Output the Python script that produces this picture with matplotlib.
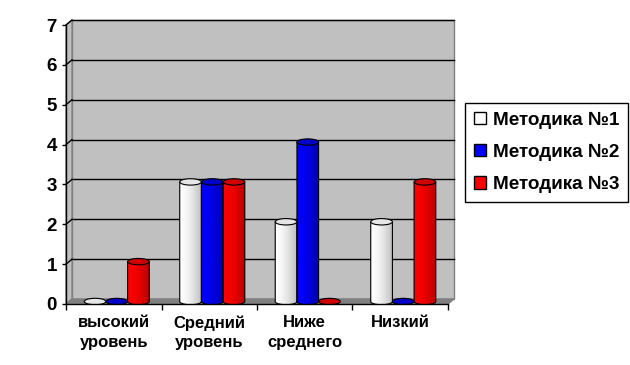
import matplotlib
matplotlib.use("Agg")
import matplotlib.pyplot as plt
import numpy as np
from matplotlib.patches import Polygon, Ellipse, Patch
from matplotlib.path import Path
from matplotlib.patches import PathPatch

# data
categories = ["высокий\nуровень", "Средний\nуровень", "Ниже\nсреднего", "Низкий"]
series_names = ["Методика №1", "Методика №2", "Методика №3"]
method1 = [0, 3, 2, 2]
method2 = [0, 3, 4, 0]
method3 = [1, 3, 0, 3]
y_ticks = [0, 1, 2, 3, 4, 5, 6, 7]

plt.rcParams["font.family"] = ["Liberation Sans", "DejaVu Sans"]
plt.rcParams["font.weight"] = "bold"

# left colour, right colour, top colour per series
shades = [("#ffffff", "#bdbdbd", "#e6e6e6"),
          ("#0000ff", "#0000a8", "#0000c8"),
          ("#ff0000", "#b80000", "#d00000")]

fig = plt.figure(figsize=(6.3, 3.65), dpi=100)
ax = fig.add_axes([66 / 630, 61 / 365, 382 / 630, 279 / 365])
n = len(categories)
ymax = y_ticks[-1]
dx, dy = 0.063, 0.126      # depth offset of the back wall, data units
bw = 0.227                 # bar width
eh = 0.16                  # ellipse height

# back wall, side wall, floor
ax.add_patch(Polygon([(dx, dy), (n + dx, dy), (n + dx, ymax + dy), (dx, ymax + dy)],
                     closed=True, facecolor="#c0c0c0", edgecolor="#808080", lw=1,
                     zorder=0, clip_on=False))
ax.add_patch(Polygon([(0, 0), (dx, dy), (dx, ymax + dy), (0, ymax)], closed=True,
                     facecolor="#c0c0c0", edgecolor="#808080", lw=1, zorder=0, clip_on=False))
ax.add_patch(Polygon([(0, 0), (n, 0), (n + dx, dy), (dx, dy)], closed=True,
                     facecolor="#808080", edgecolor="#808080", lw=1, zorder=1, clip_on=False))
for v in y_ticks[1:]:
    ax.plot([dx, n + dx], [v + dy, v + dy], color="black", lw=1, zorder=1, clip_on=False)
    ax.plot([0, dx], [v, v + dy], color="black", lw=1, zorder=1, clip_on=False)


def cylinder(xc, h, left, right, top, z):
    x0, x1 = xc - bw / 2, xc + bw / 2
    yb = dy / 2
    if h > 0:
        t = np.linspace(0, 1, 64)
        cl = np.array(matplotlib.colors.to_rgb(left))
        cr = np.array(matplotlib.colors.to_rgb(right))
        k = (t ** 1.6)[:, None]
        grad = (cl * (1 - k) + cr * k)[None, :, :]
        # clip: body plus lower half ellipse
        th = np.linspace(np.pi, 2 * np.pi, 30)
        verts = [(x0, yb + h)] + [(xc + bw / 2 * np.cos(a), yb + eh / 2 * np.sin(a)) for a in th] \
            + [(x1, yb + h), (x0, yb + h)]
        clip = PathPatch(Path(verts), facecolor="none", edgecolor="black", lw=0.8, zorder=z + 0.2)
        ax.add_patch(clip)
        im = ax.imshow(grad, extent=[x0, x1, yb - eh / 2, yb + h], aspect="auto",
                       zorder=z, interpolation="bilinear")
        im.set_clip_path(clip)
    ax.add_patch(Ellipse((xc, yb + h), bw, eh, facecolor=top, edgecolor="black",
                         lw=0.8, zorder=z + 0.3))


for s, vals in enumerate([method1, method2, method3]):
    for i, v in enumerate(vals):
        xc = i + 0.5 + dx / 2 + (s - 1) * bw
        cylinder(xc, v, *shades[s], z=3 + i * 0.1 + s * 0.01)

ax.set_xlim(0, n)
ax.set_ylim(0, ymax)
for sp in ["top", "right"]:
    ax.spines[sp].set_visible(False)
for sp in ["left", "bottom"]:
    ax.spines[sp].set_linewidth(1)
    ax.spines[sp].set_zorder(5)
ax.set_yticks(y_ticks)
ax.set_yticklabels([str(v) for v in y_ticks], fontsize=13.5, fontweight="bold")
ax.tick_params(axis="y", direction="out", length=3, width=1, pad=3.5)
ax.set_xticks(range(n + 1))
ax.set_xticklabels([])
ax.tick_params(axis="x", which="major", direction="out", length=4, width=1)
ax.set_xticks([i + 0.5 for i in range(n)], minor=True)
ax.set_xticklabels(categories, minor=True, fontsize=12, fontweight="bold", linespacing=1.4)
ax.tick_params(axis="x", which="minor", length=0, pad=8)

handles = [Patch(facecolor=shades[s][0], edgecolor="black", lw=1) for s in range(3)]
leg = fig.legend(handles, series_names, loc="upper left",
                 bbox_to_anchor=(465 / 630, 1 - 103 / 365), borderaxespad=0,
                 fancybox=False, shadow=False, edgecolor="black", framealpha=1,
                 prop={"size": 13.6, "weight": "bold"}, handlelength=0.65,
                 handleheight=0.65, handletextpad=0.4, labelspacing=0.8, borderpad=0.45)
leg.get_frame().set_linewidth(1)

fig.savefig("out.png", dpi=100)
